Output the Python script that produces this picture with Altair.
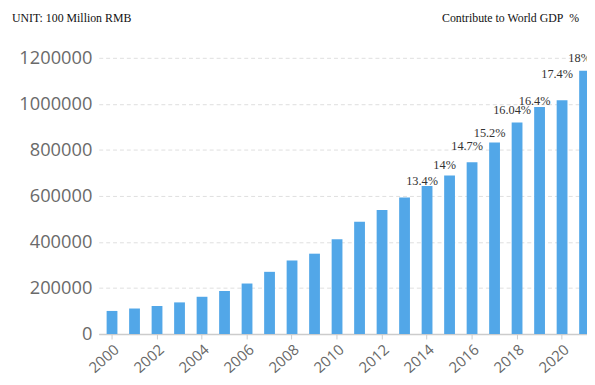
import altair as alt
import pandas as pd

years = [str(y) for y in range(2000, 2022)]
gdp = [100280, 110863, 121717, 137422, 161840, 187319, 219438, 270232,
       319516, 349081, 412119, 487940, 538580, 592963, 643563, 688858,
       746395, 832036, 919281, 986515, 1015986, 1143670]

share_years = ["2014", "2015", "2016", "2017", "2018", "2019", "2020", "2021"]
share_values = [13.4, 14.0, 14.7, 15.2, 16.04, 16.4, 17.4, 18.0]
share_labels = ["13.4%", "14%", "14.7%", "15.2%", "16.04%", "16.4%", "17.4%", "18%"]

y_ticks = [0, 200000, 400000, 600000, 800000, 1000000, 1200000]
x_ticks = [str(y) for y in range(2000, 2021, 2)]

df = pd.DataFrame({"year": years, "gdp": gdp})
lab = pd.DataFrame({"year": share_years, "share": share_values, "label": share_labels})

xscale = alt.Scale(domain=years, paddingInner=0.52, paddingOuter=0.35, range=[0, 506])
yscale = alt.Scale(domain=[0, 1200000], nice=False)

bars = alt.Chart(df).mark_bar(color="#52a7e8").encode(
    x=alt.X("year:O", scale=xscale, title=None,
            axis=alt.Axis(values=x_ticks, labelAngle=-42, labelFont="Open Sans",
                          labelFontSize=15, labelColor="#666", labelPadding=3,
                          tickColor="#ccc", tickSize=5, domainColor="#ccc",
                          domainWidth=1.5, bandPosition=0.5, grid=False)),
    y=alt.Y("gdp:Q", scale=yscale, title=None,
            axis=alt.Axis(values=y_ticks, format="d", labelFont="Open Sans",
                          labelFontSize=18.5, labelColor="#6a6a6a", labelPadding=7,
                          ticks=False, domain=False, grid=True,
                          gridColor="#dedede", gridDash=[4, 3])),
)

# percentage labels sit on a hidden secondary scale (share of world GDP)
labels = alt.Chart(lab).mark_text(
    font="Liberation Serif", fontSize=12.5, color="#333", baseline="middle", dx=-5,
).encode(
    x=alt.X("year:O", scale=xscale),
    y=alt.Y("share:Q", scale=alt.Scale(domain=[7.7, 18.0], nice=False, zero=False), axis=None),
    text="label:N",
)

head_left = alt.Chart(pd.DataFrame({"t": ["UNIT: 100 Million RMB"]})).mark_text(
    font="Liberation Serif", fontSize=12, color="#111", align="left", baseline="middle"
).encode(x=alt.value(-88), y=alt.value(-40), text="t:N")

head_right = alt.Chart(pd.DataFrame({"t": ["Contribute to World GDP\u00a0\u00a0%"]})).mark_text(
    font="Liberation Serif", fontSize=12, color="#111", align="left", baseline="middle"
).encode(x=alt.value(348), y=alt.value(-40), text="t:N")

chart = alt.layer(bars, labels, head_left, head_right).resolve_scale(
    y="independent"
).properties(
    width=495, height=280,
    autosize=alt.AutoSizeParams(type="none"),
    padding={"left": 92, "top": 48, "right": 0, "bottom": 38},
    background="white",
).configure_view(stroke=None)

chart.save("out.html", embed_options={"renderer": "svg", "actions": False})
